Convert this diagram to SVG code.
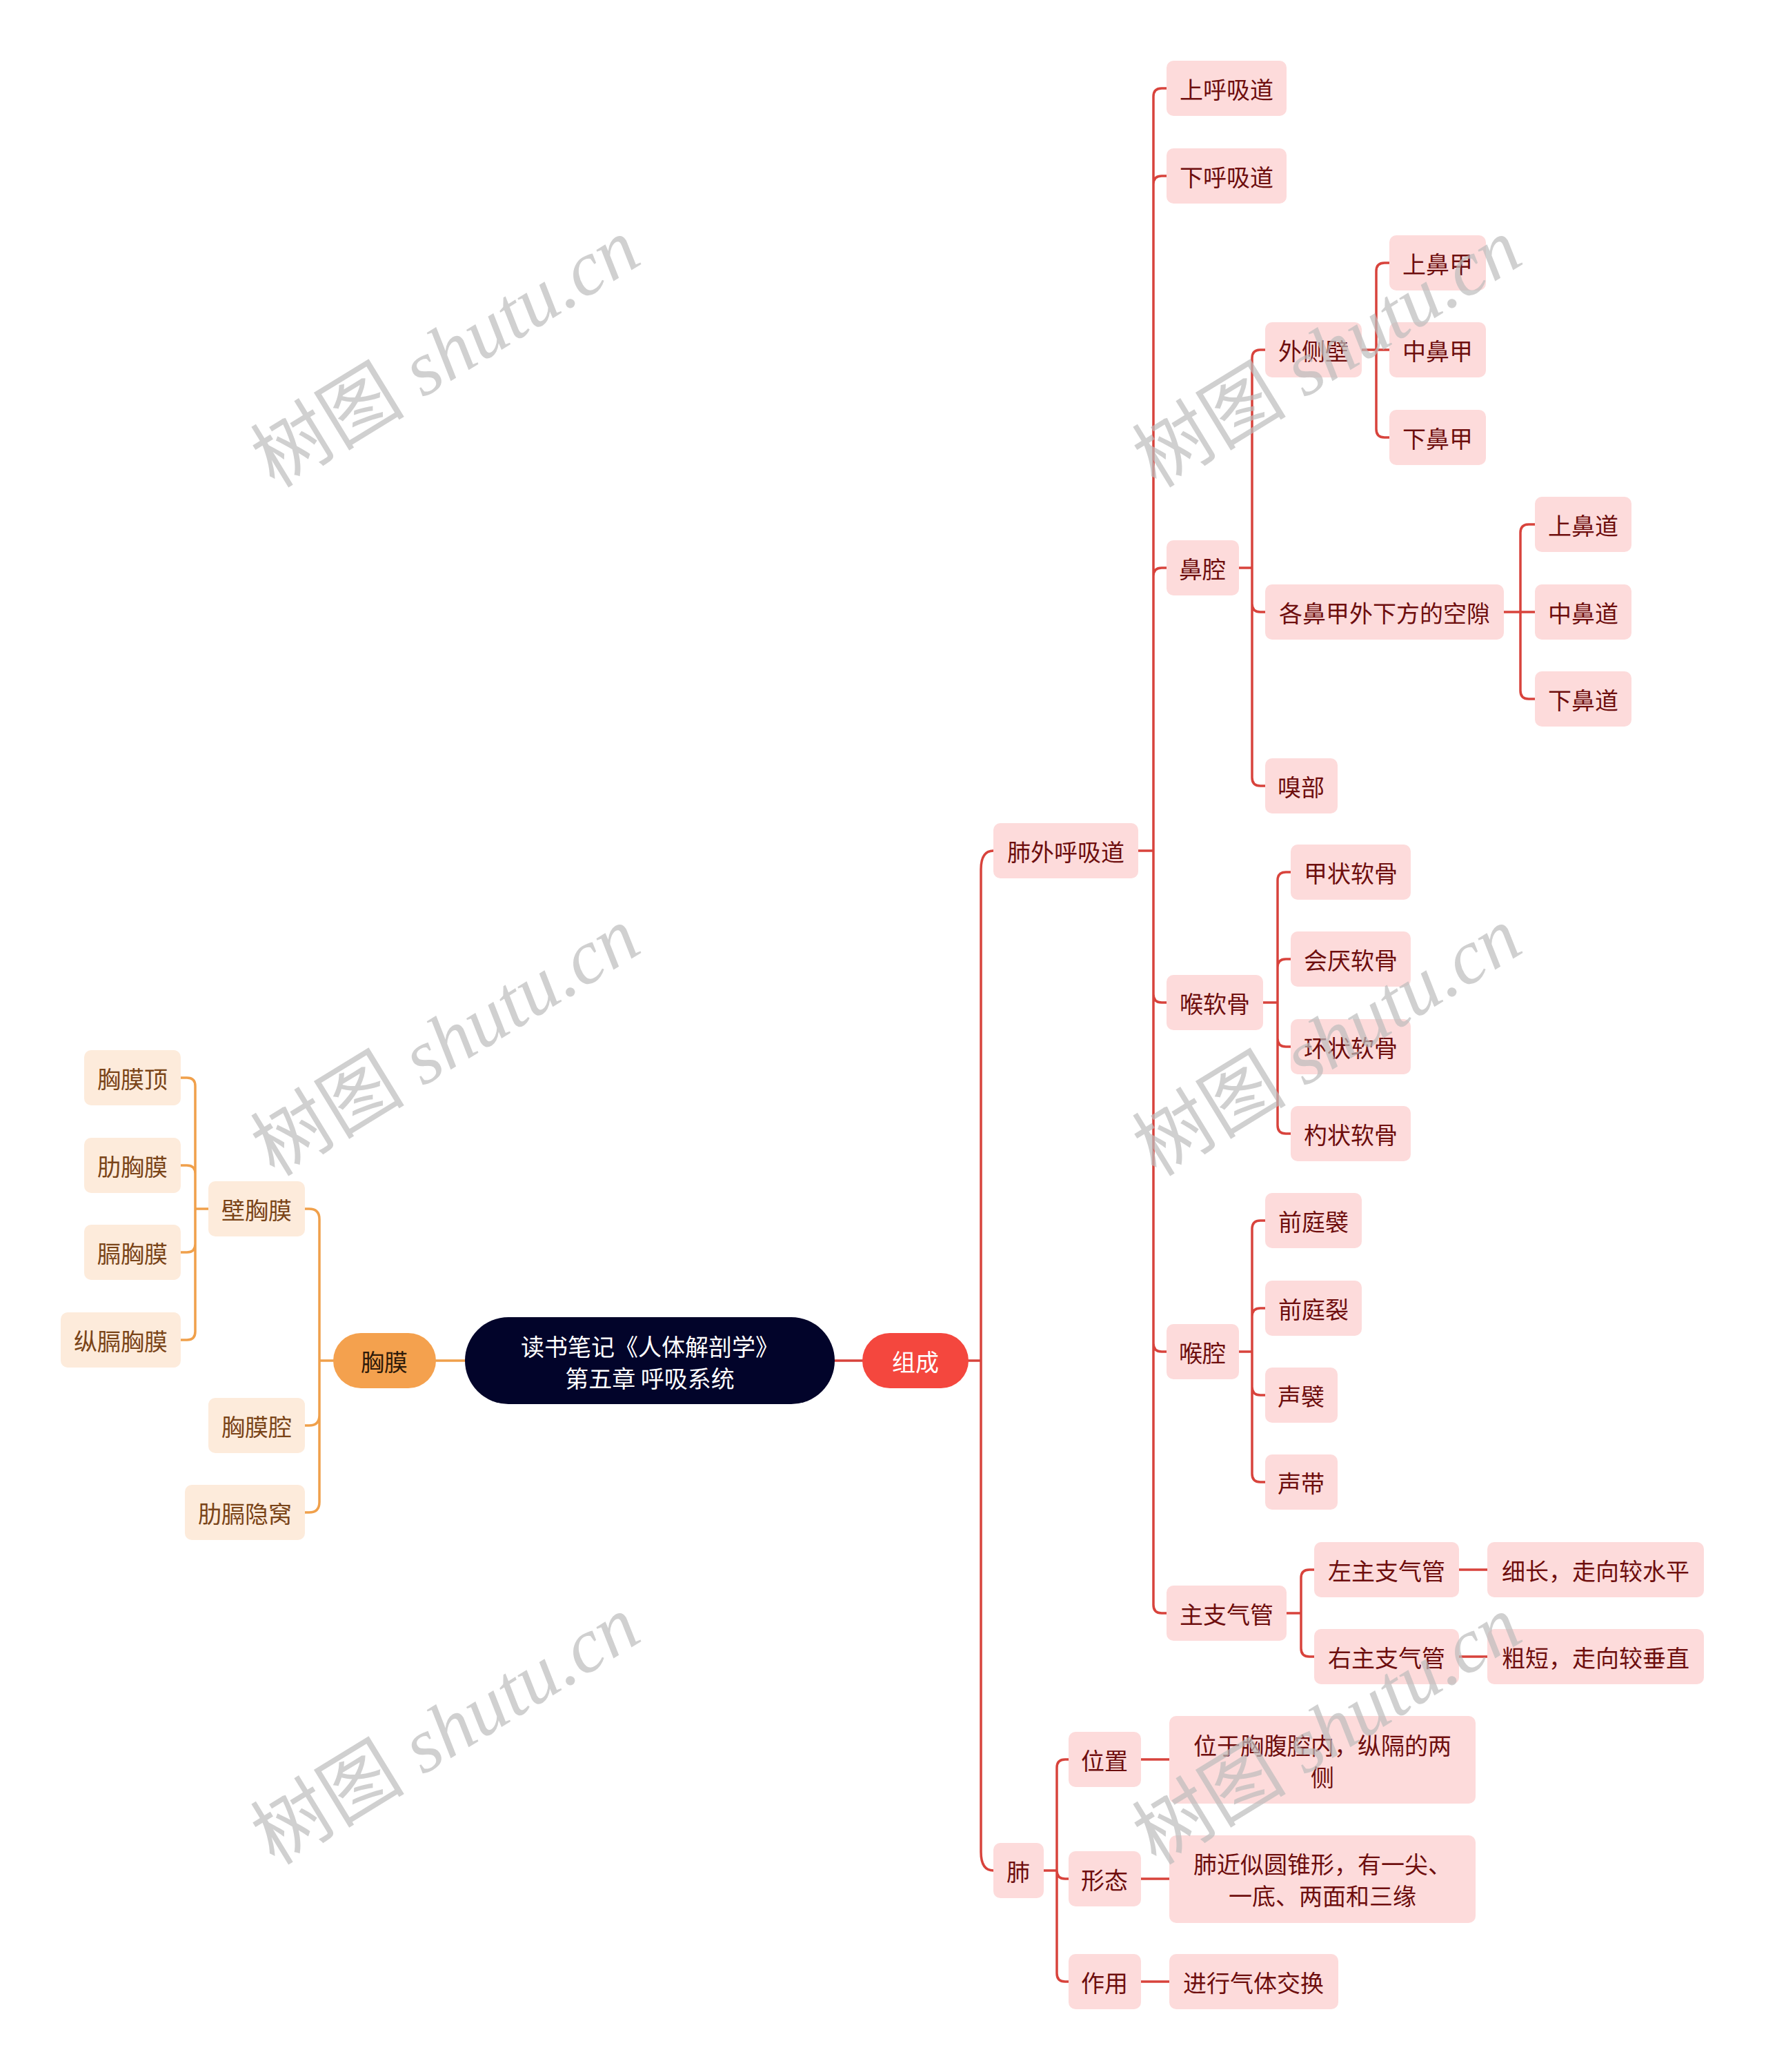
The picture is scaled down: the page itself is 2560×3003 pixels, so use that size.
<svg xmlns="http://www.w3.org/2000/svg" width="2560" height="3003" viewBox="0 0 2560 3003">
<style>
text{font-family:"Noto Sans CJK SC","Noto Sans",sans-serif;font-size:34px;text-anchor:middle;dominant-baseline:central}
.r rect{fill:#fddbdb}
.r text{fill:#6e0e0e}
.o rect{fill:#fdebdb}
.o text{fill:#7a4418}
.lr{fill:none;stroke:#d8433c;stroke-width:3.5;stroke-linecap:round}
.lo{fill:none;stroke:#f0a04b;stroke-width:3.5;stroke-linecap:round}
.wm{font-family:"Liberation Serif","Noto Sans CJK SC",serif;font-size:112px;fill:#bdbdbd;opacity:0.7}
.wm tspan.i{font-style:italic}
</style>
<rect width="2560" height="3003" fill="#ffffff"/>
<g id="connectors">
<path class="lo" d="M632 1972 H674"/>
<path class="lr" d="M1210 1972 H1250"/>
<path class="lr" d="M1404 1972 H1422 M1422 1972 V1260 Q1422 1233 1440 1233 M1422 1972 V2684 Q1422 2711 1440 2711"/>
<path class="lr" d="M1650 1233 H1672 M1672 1233 V140 Q1672 128 1684 128 H1691 M1672 1233 V267 Q1672 255 1684 255 H1691 M1672 1233 V835 Q1672 823 1684 823 H1691 M1672 1233 V1441 Q1672 1453 1684 1453 H1691 M1672 1233 V1947 Q1672 1959 1684 1959 H1691 M1672 1233 V2326 Q1672 2338 1684 2338 H1691"/>
<path class="lr" d="M1796 823 H1815 M1815 823 V519 Q1815 507 1827 507 H1834 M1815 823 V875 Q1815 887 1827 887 H1834 M1815 823 V1127 Q1815 1139 1827 1139 H1834"/>
<path class="lr" d="M1974 507 H2014 M1995 507 V393 Q1995 381 2007 381 H2014 M1995 507 V622 Q1995 634 2007 634 H2014"/>
<path class="lr" d="M2180 887 H2225 M2204 887 V772 Q2204 760 2216 760 H2225 M2204 887 V1001 Q2204 1013 2216 1013 H2225"/>
<path class="lr" d="M1831 1453 H1852 M1852 1453 V1276 Q1852 1264 1864 1264 H1871 M1852 1453 V1402 Q1852 1390 1864 1390 H1871 M1852 1453 V1505 Q1852 1517 1864 1517 H1871 M1852 1453 V1631 Q1852 1643 1864 1643 H1871"/>
<path class="lr" d="M1796 1959 H1815 M1815 1959 V1781 Q1815 1769 1827 1769 H1834 M1815 1959 V1908 Q1815 1896 1827 1896 H1834 M1815 1959 V2010 Q1815 2022 1827 2022 H1834 M1815 1959 V2136 Q1815 2148 1827 2148 H1834"/>
<path class="lr" d="M1865 2338 H1886 M1886 2338 V2287 Q1886 2275 1898 2275 H1905 M1886 2338 V2389 Q1886 2401 1898 2401 H1905"/>
<path class="lr" d="M2115 2275 H2156 M2115 2401 H2156"/>
<path class="lr" d="M1513 2711 H1532 M1532 2711 V2562 Q1532 2550 1544 2550 H1549 M1532 2711 V2711 Q1532 2723 1544 2723 H1549 M1532 2711 V2860 Q1532 2872 1544 2872 H1549"/>
<path class="lr" d="M1654 2550 H1695 M1654 2723 H1695 M1654 2872 H1695"/>
<path class="lo" d="M483 1972 H463 M463 1972 V1767 Q463 1752 448 1752 H442 M463 1972 V2051 Q463 2066 448 2066 H442 M463 1972 V2177 Q463 2192 448 2192 H442"/>
<path class="lo" d="M302 1752 H283 M283 1752 V1574 Q283 1562 271 1562 H262 M283 1752 V1701 Q283 1689 271 1689 H262 M283 1752 V1803 Q283 1815 271 1815 H262 M283 1752 V1930 Q283 1942 271 1942 H262"/>
</g>
<g id="root"><rect x="674" y="1909" width="536" height="126" rx="63" fill="#02042a"/><text x="942" y="1950" fill="#ffffff">读书笔记《人体解剖学》</text><text x="942" y="1996" fill="#ffffff">第五章 呼吸系统</text></g>
<g id="n-zucheng"><rect x="1250" y="1932" width="154" height="80" rx="40" fill="#f4473e"/><text x="1327" y="1972" fill="#ffffff">组成</text></g>
<g id="n-xiongmo"><rect x="483" y="1932" width="149" height="80" rx="40" fill="#f4a14e"/><text x="557" y="1972" fill="#2e1a0a">胸膜</text></g>
<g class="o">
<g id="n-bixiongmo"><rect x="302" y="1712" width="140" height="80" rx="10"/><text x="372" y="1752">壁胸膜</text></g>
<g id="n-xiongmoqiang"><rect x="302" y="2026" width="140" height="80" rx="10"/><text x="372" y="2066">胸膜腔</text></g>
<g id="n-leigeyinwo"><rect x="268" y="2152" width="174" height="80" rx="10"/><text x="355" y="2192">肋膈隐窝</text></g>
<g id="n-xiongmoding"><rect x="122" y="1522" width="140" height="80" rx="10"/><text x="192" y="1562">胸膜顶</text></g>
<g id="n-leixiongmo"><rect x="122" y="1649" width="140" height="80" rx="10"/><text x="192" y="1689">肋胸膜</text></g>
<g id="n-gexiongmo"><rect x="122" y="1775" width="140" height="80" rx="10"/><text x="192" y="1815">膈胸膜</text></g>
<g id="n-zonggexiongmo"><rect x="88" y="1902" width="174" height="80" rx="10"/><text x="175" y="1942">纵膈胸膜</text></g>
</g>
<g class="r">
<g id="n-feiwai"><rect x="1440" y="1193" width="210" height="80" rx="10"/><text x="1545" y="1233">肺外呼吸道</text></g>
<g id="n-fei"><rect x="1440" y="2671" width="73" height="80" rx="10"/><text x="1476" y="2711">肺</text></g>
<g id="n-shanghuxidao"><rect x="1691" y="88" width="174" height="80" rx="10"/><text x="1778" y="128">上呼吸道</text></g>
<g id="n-xiahuxidao"><rect x="1691" y="215" width="174" height="80" rx="10"/><text x="1778" y="255">下呼吸道</text></g>
<g id="n-biqiang"><rect x="1691" y="783" width="105" height="80" rx="10"/><text x="1743" y="823">鼻腔</text></g>
<g id="n-houruangu"><rect x="1691" y="1413" width="140" height="80" rx="10"/><text x="1761" y="1453">喉软骨</text></g>
<g id="n-houqiang"><rect x="1691" y="1919" width="105" height="80" rx="10"/><text x="1743" y="1959">喉腔</text></g>
<g id="n-zhuzhiqiguan"><rect x="1691" y="2298" width="174" height="80" rx="10"/><text x="1778" y="2338">主支气管</text></g>
<g id="n-waicebi"><rect x="1834" y="467" width="140" height="80" rx="10"/><text x="1904" y="507">外侧壁</text></g>
<g id="n-kongxi"><rect x="1834" y="847" width="346" height="80" rx="10"/><text x="2007" y="887">各鼻甲外下方的空隙</text></g>
<g id="n-xiubu"><rect x="1834" y="1099" width="105" height="80" rx="10"/><text x="1886" y="1139">嗅部</text></g>
<g id="n-shangbijia"><rect x="2014" y="341" width="140" height="80" rx="10"/><text x="2084" y="381">上鼻甲</text></g>
<g id="n-zhongbijia"><rect x="2014" y="467" width="140" height="80" rx="10"/><text x="2084" y="507">中鼻甲</text></g>
<g id="n-xiabijia"><rect x="2014" y="594" width="140" height="80" rx="10"/><text x="2084" y="634">下鼻甲</text></g>
<g id="n-shangbidao"><rect x="2225" y="720" width="140" height="80" rx="10"/><text x="2295" y="760">上鼻道</text></g>
<g id="n-zhongbidao"><rect x="2225" y="847" width="140" height="80" rx="10"/><text x="2295" y="887">中鼻道</text></g>
<g id="n-xiabidao"><rect x="2225" y="973" width="140" height="80" rx="10"/><text x="2295" y="1013">下鼻道</text></g>
<g id="n-jiazhuang"><rect x="1871" y="1224" width="174" height="80" rx="10"/><text x="1958" y="1264">甲状软骨</text></g>
<g id="n-huiyan"><rect x="1871" y="1350" width="174" height="80" rx="10"/><text x="1958" y="1390">会厌软骨</text></g>
<g id="n-huanzhuang"><rect x="1871" y="1477" width="174" height="80" rx="10"/><text x="1958" y="1517">环状软骨</text></g>
<g id="n-shaozhuang"><rect x="1871" y="1603" width="174" height="80" rx="10"/><text x="1958" y="1643">杓状软骨</text></g>
<g id="n-qiantingbi"><rect x="1834" y="1729" width="140" height="80" rx="10"/><text x="1904" y="1769">前庭襞</text></g>
<g id="n-qiantinglie"><rect x="1834" y="1856" width="140" height="80" rx="10"/><text x="1904" y="1896">前庭裂</text></g>
<g id="n-shengbi"><rect x="1834" y="1982" width="105" height="80" rx="10"/><text x="1886" y="2022">声襞</text></g>
<g id="n-shengdai"><rect x="1834" y="2108" width="105" height="80" rx="10"/><text x="1886" y="2148">声带</text></g>
<g id="n-zuozhu"><rect x="1905" y="2235" width="210" height="80" rx="10"/><text x="2010" y="2275">左主支气管</text></g>
<g id="n-youzhu"><rect x="1905" y="2361" width="210" height="80" rx="10"/><text x="2010" y="2401">右主支气管</text></g>
<g id="n-xichang"><rect x="2156" y="2235" width="314" height="80" rx="10"/><text x="2313" y="2275">细长，走向较水平</text></g>
<g id="n-cuduan"><rect x="2156" y="2361" width="314" height="80" rx="10"/><text x="2313" y="2401">粗短，走向较垂直</text></g>
<g id="n-weizhi"><rect x="1549" y="2510" width="105" height="80" rx="10"/><text x="1601" y="2550">位置</text></g>
<g id="n-xingtai"><rect x="1549" y="2683" width="105" height="80" rx="10"/><text x="1601" y="2723">形态</text></g>
<g id="n-zuoyong"><rect x="1549" y="2832" width="105" height="80" rx="10"/><text x="1601" y="2872">作用</text></g>
<g id="n-weizhi-d"><rect x="1695" y="2487" width="444" height="127" rx="10"/><text x="1917" y="2528">位于胸腹腔内，纵隔的两</text><text x="1917" y="2574">侧</text></g>
<g id="n-xingtai-d"><rect x="1695" y="2660" width="444" height="127" rx="10"/><text x="1917" y="2700">肺近似圆锥形，有一尖、</text><text x="1917" y="2746">一底、两面和三缘</text></g>
<g id="n-zuoyong-d"><rect x="1695" y="2832" width="245" height="80" rx="10"/><text x="1817" y="2872">进行气体交换</text></g>
</g>
<g id="watermarks">
<text class="wm" x="646" y="512" transform="rotate(-31.5 646 512)">树图 <tspan class="i">shutu.cn</tspan></text>
<text class="wm" x="646" y="1510" transform="rotate(-31.5 646 1510)">树图 <tspan class="i">shutu.cn</tspan></text>
<text class="wm" x="646" y="2508" transform="rotate(-31.5 646 2508)">树图 <tspan class="i">shutu.cn</tspan></text>
<text class="wm" x="1924" y="512" transform="rotate(-31.5 1924 512)">树图 <tspan class="i">shutu.cn</tspan></text>
<text class="wm" x="1924" y="1510" transform="rotate(-31.5 1924 1510)">树图 <tspan class="i">shutu.cn</tspan></text>
<text class="wm" x="1924" y="2508" transform="rotate(-31.5 1924 2508)">树图 <tspan class="i">shutu.cn</tspan></text>
</g>
</svg>
